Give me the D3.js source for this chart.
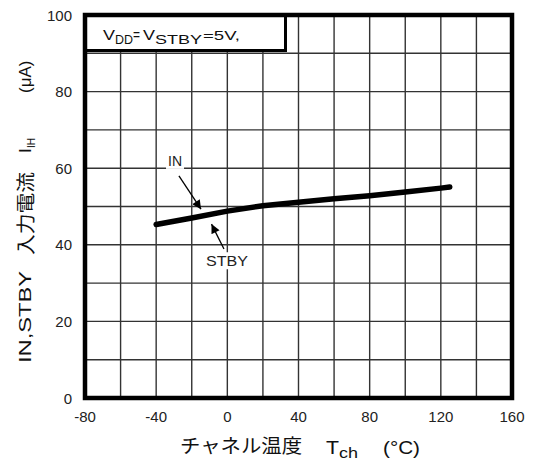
<!DOCTYPE html>
<html>
<head>
<meta charset="utf-8">
<script src="https://cdn.jsdelivr.net/npm/d3@7"></script>
<style>
  html, body { margin: 0; padding: 0; background: #fff; }
  svg { display: block; font-family: "Liberation Sans", Arial, sans-serif; }
</style>
</head>
<body>
<svg id="chart" width="534" height="464"></svg>
<script>
// Input current vs. channel temperature
const temps   = [-40, -20, 0, 20, 40, 60, 80, 100, 120, 125];
const current = [45.3, 47.0, 48.8, 50.2, 51.1, 52.0, 52.8, 53.8, 54.8, 55.1];

const xTicks = [-80, -40, 0, 40, 80, 120, 160];
const yTicks = [0, 20, 40, 60, 80, 100];
const xGrid = d3.range(-80, 161, 20);
const yGrid = d3.range(0, 101, 10);

const svg = d3.select("#chart");
const x = d3.scaleLinear().domain([-80, 160]).range([85, 512]);
const y = d3.scaleLinear().domain([0, 100]).range([398, 15]);

const jpFont = '"Noto Sans CJK JP", "Liberation Sans", sans-serif';
const ink = "#111";

// grid
const grid = svg.append("g").attr("stroke", "#333").attr("stroke-width", 1.4);
grid.selectAll("line.v").data(xGrid).join("line")
  .attr("x1", d => x(d)).attr("x2", d => x(d))
  .attr("y1", y(0)).attr("y2", y(100));
grid.selectAll("line.h").data(yGrid).join("line")
  .attr("x1", x(-80)).attr("x2", x(160))
  .attr("y1", d => y(d)).attr("y2", d => y(d));

// helper: place a run of text at a given start and stretched width
function run(parent, str, px, py, size, len, font) {
  const t = parent.append("text")
    .attr("x", px).attr("y", py)
    .attr("font-size", size).attr("fill", ink)
    .text(str);
  if (len) t.attr("textLength", len).attr("lengthAdjust", "spacingAndGlyphs");
  if (font) t.attr("font-family", font);
  return t;
}

// condition box
const box = svg.append("g");
box.append("rect")
  .attr("x", x(-80)).attr("y", y(100))
  .attr("width", 200.5).attr("height", 35.5)
  .attr("fill", "#fff").attr("stroke", "#000").attr("stroke-width", 3);
run(box, "V", 103, 40, 15, 12);
run(box, "DD", 115, 44, 13, 18);
run(box, "=", 133, 40, 14, 7);
run(box, "V", 143, 40, 15, 12);
run(box, "STBY", 155, 44, 13, 47);
run(box, "=5V,", 203, 40, 12, 37);

// curve
svg.append("path")
  .datum(temps.map((t, i) => [t, current[i]]))
  .attr("fill", "none").attr("stroke", "#000")
  .attr("stroke-width", 5.5).attr("stroke-linecap", "round").attr("stroke-linejoin", "round")
  .attr("d", d3.line().x(d => x(d[0])).y(d => y(d[1])));

// arrow head marker
svg.append("defs").append("marker")
  .attr("id", "head").attr("viewBox", "0 0 10 10")
  .attr("refX", 10).attr("refY", 5)
  .attr("markerWidth", 10).attr("markerHeight", 9)
  .attr("markerUnits", "userSpaceOnUse")
  .attr("orient", "auto")
  .append("path").attr("d", "M0,0 L10,5 L0,10 Z").attr("fill", "#000");

// series labels with pointers
const notes = [
  { label: "IN",   tx: -29.4, ty: 60.6, size: 14, len: 0,  x1: -27.2, y1: 58.0, x2: -14.8, y2: 49.3 },
  { label: "STBY", tx: -0.2,  ty: 34.4, size: 15, len: 42, x1: -1.9,  y1: 38.9, x2: -8.9,  y2: 45.4 }
];
notes.forEach(n => {
  const t = svg.append("text")
    .attr("x", x(n.tx)).attr("y", y(n.ty))
    .attr("text-anchor", "middle").attr("font-size", n.size).attr("fill", "#222")
    .text(n.label);
  if (n.len) t.attr("textLength", n.len).attr("lengthAdjust", "spacingAndGlyphs");
  const bb = t.node().getBBox();
  svg.insert("rect", () => t.node())
    .attr("x", bb.x - 2).attr("y", bb.y).attr("width", bb.width + 4).attr("height", bb.height)
    .attr("fill", "#fff");
  svg.append("line")
    .attr("x1", x(n.x1)).attr("y1", y(n.y1)).attr("x2", x(n.x2)).attr("y2", y(n.y2))
    .attr("stroke", "#000").attr("stroke-width", 1.3).attr("marker-end", "url(#head)");
});

// frame
svg.append("rect")
  .attr("x", x(-80)).attr("y", y(100))
  .attr("width", x(160) - x(-80)).attr("height", y(0) - y(100))
  .attr("fill", "none").attr("stroke", "#000").attr("stroke-width", 4.5);

// tick labels
svg.append("g").selectAll("text").data(xTicks).join("text")
  .attr("x", d => x(d)).attr("y", 422)
  .attr("text-anchor", "middle").attr("font-size", 15).attr("fill", "#222")
  .text(d => d);
svg.append("g").selectAll("text").data(yTicks).join("text")
  .attr("x", 72).attr("y", d => y(d) + 5.5)
  .attr("text-anchor", "end").attr("font-size", 15).attr("fill", "#222")
  .text(d => d);

// x title
const xt = svg.append("g");
run(xt, "チャネル温度", 180, 453, 19, 122, jpFont);
run(xt, "T", 326, 454, 19, 13);
run(xt, "ch", 339, 458, 15, 19);
run(xt, "(°C)", 383, 454, 19, 37);

// y title (reads bottom to top)
const yt = svg.append("g").attr("transform", "translate(31,0) rotate(-90)");
run(yt, "IN,STBY", -363, 0, 17, 92);
run(yt, "入力電流", -255, 2, 19, 83, jpFont);
run(yt, "I", -153, 0, 17, 0);
run(yt, "IH", -148, 4, 10, 10);
run(yt, "(μA)", -93, 0, 17, 0);
</script>
</body>
</html>
